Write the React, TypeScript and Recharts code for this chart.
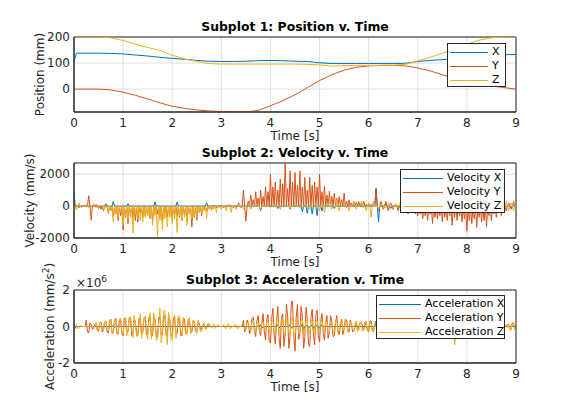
import React from "react";
import { LineChart, Line, XAxis, YAxis, CartesianGrid, Legend, ReferenceArea } from "recharts";

const BLUE = "#0072BD";
const ORANGE = "#D95319";
const GOLD = "#EDB120";
const INK = "#262626";
const GRID = "#dfdfdf";

const timeTicks = [0, 1, 2, 3, 4, 5, 6, 7, 8, 9];
const posTicks = [0, 100, 200];
const velTicks = [-2000, 0, 2000];
const accTicks = [-2, 0, 2];

// position (mm), sampled at posT
const posT = [0, 0.05, 0.25, 0.5, 0.75, 1, 1.25, 1.5, 1.75, 2, 2.25, 2.5, 2.75, 3, 3.25, 3.5, 3.75, 4, 4.25, 4.5, 4.75, 5, 5.25, 5.5, 5.75, 6, 6.25, 6.5, 6.75, 7, 7.25, 7.5, 7.75, 8, 8.25, 8.5, 8.75, 9];
const posX = [106, 138, 138, 138, 137, 135, 131, 127, 122, 118, 114, 110, 107, 106, 106, 107, 109, 110, 109, 107, 106, 101, 98, 98, 98, 98, 98, 98, 99, 106, 110, 113, 118, 122, 126, 129, 132, 133];
const posY = [0, 0, 0, 0, -3, -12, -24, -38, -53, -66, -74, -80, -84, -86, -87, -88, -82, -64, -45, -22, 5, 33, 55, 73, 84, 89, 91, 91, 89, 81, 70, 55, 42, 30, 20, 12, 6, 0];
const posZ = [200, 200, 200, 200, 197, 187, 172, 160, 148, 130, 116, 106, 98, 96, 96, 96, 96, 96, 96, 96, 95, 93, 88, 90, 91, 91, 91, 92, 95, 108, 122, 138, 155, 172, 188, 197, 200, 200];

// velocity (mm/s) and acceleration (x10^6 mm/s^2), one value every 0.025 s (40 per row = 1 s)
const SAMPLE_DT = 0.025;
const velX = [
  850, 0, 0, 0, -100, 0, 0, 0, 0, 0, 0, 0, 0, 0, 0, 0, 0, 0, 0, 0, 0, 0, 0, 0, 0, 0, 0, 0, 0, 0, 0, 0, 300, 0, 0, 0, 0, 0, 0, 0,
  0, 0, 0, 0, 150, 0, 0, 0, 0, 0, 0, 0, 0, 0, 0, 0, 0, 0, 0, 0, 0, 0, 0, 0, 0, 0, 250, 0, 0, 0, 0, 0, 0, 0, 0, 0, 0, 0, 0, 0,
  0, 0, 0, 0, 250, 0, 0, 0, 0, 0, 0, 0, 0, 0, 0, 0, 0, 0, 0, 0, 0, 0, 0, 0, 0, 0, 0, 0, 200, 0, 0, 0, 0, 0, 0, 0, 0, 0, 0, 0,
  0, 0, 0, 0, 0, 0, 0, 0, 0, 0, 0, 0, 0, 0, 0, 0, 0, 0, 0, 0, 0, 0, 0, 0, 0, 0, 0, 0, 0, 0, 0, 0, -300, 0, 0, 0, 0, 0, 0, 0,
  0, 0, 0, 0, 0, 0, -150, 0, 0, 0, 0, 0, 0, 0, 0, 0, -200, 0, 0, 0, 0, 0, 0, 0, 0, 0, -350, 0, 0, 0, -450, 0, 0, 0, -500, 0, 0, 0, -600, 0,
  0, 0, -300, 0, 0, 0, 0, 0, 0, 0, 0, 0, -150, 0, 0, 0, 0, 0, 0, 0, 0, 0, 0, 0, 0, 0, 0, 0, 0, 0, 0, 0, 0, 0, 0, 0, 0, 0, 0, 0,
  0, 0, 0, 0, 0, 0, 1100, 0, -1000, 0, 0, 0, 0, 0, 150, 0, 0, 0, -150, 0, 0, 0, 0, 0, 0, 0, 100, 0, 0, 0, 0, 0, 0, 0, 0, 0, 0, 0, 0, 0,
  0, 0, 0, 0, 100, 0, 0, 0, 0, 0, 0, 0, 0, 0, 0, 0, -100, 0, 0, 0, 0, 0, 0, 0, 0, 0, 0, 0, 0, 0, 0, 0, 0, 0, 0, 0, 0, 0, 0, 0,
  0, 0, 0, 0, 0, 0, 0, 0, 0, 0, 0, 0, 0, 0, 0, 0, 0, 0, 0, 0, 0, 0, 0, 0, 0, 0, 0, 0, 0, 0, 0, 0, 0, 0, 0, 0, -100, 0, 0, 0,
  0,
];
const velY = [
  0, 0, 0, 0, 0, 0, 0, 0, 0, 0, 0, 0, 650, 0, -900, 0, 0, 0, 100, 0, -150, 0, -200, 0, -300, 0, 150, 0, -450, 0, -300, 0, -700, 0, -500, 0, -900, 0, -600, 0,
  -1500, 0, -700, 0, -1100, 0, -500, 0, -800, 0, -900, 0, -1000, 0, -400, 0, -700, 0, -600, 0, -600, 0, -800, 0, -900, 0, -500, 0, -500, 0, -700, 0, -1000, 0, -400, 0, -700, 0, -600, 0,
  -800, 0, -500, 0, -600, 0, -700, 0, -900, 0, -600, 0, -1000, 0, -500, 0, -1300, 0, -700, 0, -900, 0, -400, 0, -600, 0, -200, 0, -300, 0, -100, 0, -200, 0, 0, 0, -100, 0, 0, 0,
  0, 0, -100, 0, 0, 0, 100, 0, 0, 0, -100, 0, 0, 0, 200, 0, -100, 0, 1000, 0, -950, 0, 300, 0, 700, 0, 400, 0, 900, 0, 500, 0, 1000, 0, 600, 0, 1200, 0, 900, 0,
  2000, 0, 1200, 0, 1500, 0, 1000, 0, 1700, 0, 1400, 0, 2700, 0, 1100, 0, 2200, 0, 1500, 0, 2100, 0, 1300, 0, 2200, 0, 1200, 0, 1800, 0, 1000, 0, 1800, 0, 1300, 0, 1500, 0, 1200, 0,
  2000, 0, 900, 0, 1250, 0, 700, 0, 920, 0, 600, 0, 800, 0, 500, 0, 600, 0, 400, 0, 800, 0, 300, 0, 390, 0, 200, 0, 300, 0, 250, 0, 280, 0, 150, 0, 300, 0, 100, 0,
  150, 0, 100, 0, 200, 0, 1100, 0, -300, 0, 300, 0, -200, 0, 300, 0, -300, 0, 200, 0, -200, 0, 100, 0, -300, 0, -200, 0, -400, 0, -300, 0, -500, 0, -200, 0, -400, 0, -500, 0,
  -600, 0, -500, 0, -800, 0, -600, 0, -900, 0, -500, 0, -1100, 0, -700, 0, -800, 0, -600, 0, -1000, 0, -700, 0, -900, 0, -600, 0, -1200, 0, -700, 0, -900, 0, -600, 0, -1000, 0, -800, 0,
  -1550, 0, -900, 0, -1100, 0, -800, 0, -1330, 0, -700, 0, -1000, 0, -900, 0, -1300, 0, -600, 0, -900, 0, -500, 0, -700, 0, -300, 0, -600, 0, -200, 0, -300, 0, 200, 0, -200, 0, 300, 0,
  0,
];
const velZ = [
  0, 0, -250, 0, 200, 0, -100, 0, 0, 0, 100, 0, -100, 0, 0, 0, 150, 0, -100, 0, 0, 0, 50, 0, -200, 0, -100, 0, -400, 0, -300, 0, -1000, 0, -500, 0, -700, 0, -400, 0,
  -1200, 0, -600, 0, -900, 0, -700, 0, -1700, 0, -500, 0, -800, 0, -900, 0, -1000, 0, -700, 0, -600, 0, -800, 0, -1200, 0, -600, 0, -1900, 0, -900, 0, -1500, 0, -800, 0, -1300, 0, -700, 0,
  -1100, 0, -800, 0, -1650, 0, -600, 0, -900, 0, -700, 0, -1200, 0, -500, 0, -800, 0, -600, 0, -700, 0, -400, 0, -500, 0, -300, 0, -800, 0, -200, 0, -300, 0, -200, 0, -400, 0, -100, 0,
  -200, 0, 0, 0, -300, 0, 0, 0, -400, 0, 0, 0, -200, 0, 100, 0, 0, 0, -200, 0, 0, 0, 100, 0, -200, 0, 0, 0, 150, 0, 0, 0, -200, 0, 0, 0, 100, 0, 0, 0,
  -100, 0, 0, 0, 150, 0, 0, 0, -200, 0, 0, 0, 100, 0, 0, 0, -150, 0, 0, 0, 200, 0, 0, 0, -100, 0, 0, 0, 150, 0, 0, 0, -200, 0, 0, 0, 100, 0, 0, 0,
  -300, 0, 200, 0, -400, 0, 100, 0, 300, 0, -200, 0, 0, 0, 400, 0, -300, 0, 0, 0, 200, 0, -100, 0, -300, 0, 0, 0, 250, 0, -200, 0, 0, 0, 300, 0, -100, 0, -300, 0,
  200, 0, -700, 0, 300, 0, 0, 0, -200, 0, 100, 0, 0, 0, -100, 0, 200, 0, 0, 0, -100, 0, 150, 0, 0, 0, 300, 0, 0, 0, 400, 0, 0, 0, 500, 0, 100, 0, 300, 0,
  0, 0, 200, 0, 0, 0, -100, 0, 100, 0, 0, 0, -100, 0, 0, 0, 100, 0, 0, 0, -100, 0, 0, 0, 200, 0, 0, 0, -100, 0, 0, 0, 100, 0, 0, 0, -100, 0, 0, 0,
  0, 0, 100, 0, 0, 0, -100, 0, 0, 0, 100, 0, 0, 0, -100, 0, 0, 0, 100, 0, 0, 0, -100, 0, 0, 0, 100, 0, 0, 0, -200, 0, 300, 0, -300, 0, 200, 0, -300, 0,
  0,
];
const accX = [
  0.1, -0.1, 0, 0, 0, 0, 0, 0, 0, 0, 0, 0, 0, 0, 0, 0, 0, 0, 0, 0, 0, 0, 0, 0, 0, 0, 0, 0, 0, 0, 0, 0, 0.05, -0.05, 0, 0, 0, 0, 0, 0,
  0, 0, 0, 0, 0, 0, 0, 0, 0, 0, 0, 0, 0, 0, 0, 0, 0, 0, 0, 0, 0, 0, 0, 0, 0, 0, 0, 0, 0, 0, 0, 0, 0, 0, 0, 0, 0, 0, 0, 0,
  0, 0, 0, 0, 0, 0, 0, 0, 0, 0, 0, 0, 0, 0, 0, 0, 0, 0, 0, 0, 0, 0, 0, 0, 0, 0, 0, 0, 0, 0, 0, 0, 0, 0, 0, 0, 0, 0, 0, 0,
  0, 0, 0, 0, 0, 0, 0, 0, 0, 0, 0, 0, 0, 0, 0, 0, 0, 0, 0, 0, 0, 0, 0, 0, 0, 0, 0, 0, 0, 0, 0, 0, 0.1, -0.1, 0, 0, 0, 0, 0, 0,
  0, 0, 0, 0, 0, 0, 0.1, -0.1, 0, 0, 0, 0, 0, 0, 0, 0, 0.1, -0.1, 0, 0, 0, 0, 0, 0, 0, 0, 0.15, -0.15, 0, 0, 0.1, -0.1, 0, 0, 0.1, -0.15, 0, 0, 0.1, -0.1,
  0, 0, 0.1, 0, 0, 0, 0, 0, 0, 0, 0, 0, 0, 0, 0, 0, 0, 0, 0, 0, 0, 0, 0, 0, 0, 0, 0, 0, 0, 0, 0, 0, 0, 0, 0, 0, 0, 0, 0, 0,
  0, 0, 0, 0, 0, 0, 0.3, -0.3, 0, 0, 0, 0, 0, 0, 0, 0, 0, 0, 0, 0, 0, 0, 0, 0, 0, 0, 0, 0, 0, 0, 0, 0, 0, 0, 0, 0, 0, 0, 0, 0,
  0, 0, 0, 0, 0, 0, 0, 0, 0, 0, 0, 0, 0, 0, 0, 0, 0, 0, 0, 0, 0, 0, 0, 0, 0, 0, 0, 0, 0, 0, 0, 0, 0, 0, 0, 0, 0, 0, 0, 0,
  0, 0, 0, 0, 0, 0, 0, 0, 0, 0, 0, 0, 0, 0, 0, 0, 0, 0, 0, 0, 0, 0, 0, 0, 0, 0, 0, 0, 0, 0, 0, 0, 0, 0, 0, 0, 0, 0, 0, 0,
  0,
];
const accY = [
  0, 0, 0, 0, 0, 0, 0, 0, 0, 0, 0.35, -0.3, -0.35, 0.2, 0.1, -0.15, -0.1, 0.1, 0.2, -0.2, -0.25, 0.2, 0.25, -0.3, -0.2, 0.25, 0.3, -0.3, -0.35, 0.3, 0.4, -0.35, -0.3, 0.3, 0.45, -0.4, -0.4, 0.35, 0.35, -0.4,
  -0.5, 0.45, 0.4, -0.35, -0.3, 0.4, 0.5, -0.5, -0.45, 0.35, 0.3, -0.4, -0.5, 0.45, 0.45, -0.4, -0.35, 0.4, 0.5, -0.45, -0.4, 0.5, 0.55, -0.5, -0.5, 0.45, 0.4, -0.55, -0.6, 0.5, 0.5, -0.45, -0.45, 0.55, 0.6, -0.5, -0.5, 0.45, 0.4, -0.5,
  -0.55, 0.5, 0.5, -0.45, -0.4, 0.45, 0.45, -0.5, -0.5, 0.4, 0.4, -0.35, -0.35, 0.4, 0.4, -0.3, -0.3, 0.3, 0.3, -0.25, -0.25, 0.2, 0.2, -0.15, -0.15, 0.1, 0.1, -0.1, -0.1, 0.1, 0.1, 0, 0, 0, 0, 0, 0, 0, 0, 0,
  0, 0, 0, 0, 0, 0, 0, 0, 0, 0, 0, 0, 0, 0, 0, 0, 0, 0, 0.35, -0.3, -0.1, 0.35, 0.15, -0.4, -0.2, 0.45, 0.5, -0.2, -0.55, 0.3, 0.6, -0.25, -0.5, 0.2, 0.7, -0.3, -0.75, 0.4, 0.65, -0.8,
  -0.9, 0.4, 1.0, -0.5, -0.95, 0.3, 1.1, -0.6, -1.2, 0.5, 0.7, -1.1, -0.4, 1.2, 0.6, -1.2, -0.5, 1.35, 1.4, -0.6, -1.35, 0.5, 1.2, -0.7, -0.4, 1.1, 0.5, -1.2, -0.6, 1.05, 0.4, -1.0, -1.1, 0.5, 0.95, -0.4, -1.0, 0.6, 0.9, -0.5,
  -0.85, 0.3, 0.7, -0.4, -0.75, 0.2, 0.6, -0.65, -0.3, 0.6, 0.2, -0.55, -0.5, 0.15, 0.6, -0.3, -0.45, 0.1, 0.4, -0.45, -0.1, 0.4, 0.35, -0.1, -0.3, 0.35, 0.1, -0.3, -0.25, 0.05, 0.2, -0.25, 0, 0.2, 0.25, 0, -0.2, 0.2, 0.05, -0.2,
  -0.3, 0.3, 0.3, -0.25, -0.2, 0.1, 0, 0, 0, 0, 0, 0, 0, 0, 0, 0, 0, 0, 0, 0, 0, 0, 0, 0, 0, 0, 0, 0, 0.1, -0.1, -0.1, 0.1, 0.15, -0.15, -0.15, 0.15, 0.2, -0.2, -0.2, 0.15,
  0.15, -0.15, -0.2, 0.2, 0.2, -0.2, -0.25, 0.25, 0.2, -0.25, -0.3, 0.3, 0.25, -0.25, -0.2, 0.3, 0.3, -0.3, -0.25, 0.2, 0.2, -0.25, -0.3, 0.3, 0.25, -0.3, -0.35, 0.3, 0.3, -0.4, -0.5, 0.35, 0.3, -0.35, -0.4, 0.3, 0.25, -0.3, -0.3, 0.25,
  0.2, -0.3, -0.35, 0.3, 0.25, -0.25, -0.3, 0.25, 0.2, -0.2, -0.25, 0.2, 0.2, -0.2, -0.2, 0.15, 0.15, -0.15, -0.2, 0.1, 0.1, -0.1, -0.1, 0, 0, 0, 0, 0, 0, 0, 0, 0, 0, 0.1, 0.1, -0.15, -0.15, 0.2, 0.2, -0.15,
  -0.1,
];
const accZ = [
  0, 0, 0.1, -0.1, -0.1, 0.05, 0, 0, 0, 0, 0, 0, 0, 0, 0, 0, 0, 0, 0.2, -0.2, -0.15, 0.2, 0.25, -0.2, -0.2, 0.25, 0.3, -0.3, -0.25, 0.3, 0.35, -0.35, -0.4, 0.35, 0.3, -0.3, -0.35, 0.4, 0.45, -0.4,
  -0.4, 0.2, 0.5, -0.5, -0.2, 0.5, 0.45, -0.1, -0.6, 0.6, 0.2, -0.55, -0.5, 0.1, 0.7, -0.65, -0.2, 0.5, 0.55, -0.1, -0.7, 0.3, 0.75, -0.7, -0.2, 0.75, 0.3, -0.75, -0.7, 0.2, 1.0, -0.9, -0.3, 0.85, 0.9, -0.2, -1.0, 0.8, 0.3, -0.75,
  -0.7, 0.2, 0.65, -0.65, -0.1, 0.6, 0.55, -0.2, -0.5, 0.5, 0.1, -0.45, -0.4, 0.1, 0.5, -0.4, -0.1, 0.35, 0.3, -0.1, -0.4, 0.35, 0.05, -0.3, -0.25, 0.05, 0.2, -0.2, 0, 0.15, 0.15, 0, -0.1, 0.1, 0.15, -0.1, 0, 0.1, 0.05, 0,
  0, 0, 0.1, -0.1, -0.1, 0.15, 0.15, -0.1, -0.1, 0, 0, 0.1, 0.1, -0.1, -0.1, 0, 0, 0.1, 0.15, -0.15, -0.2, 0.2, 0.25, -0.2, -0.2, 0.25, 0.3, -0.25, -0.25, 0.2, 0.2, -0.3, -0.3, 0.25, 0.25, -0.2, -0.2, 0.25, 0.3, -0.3,
  -0.35, 0.3, 0.3, -0.35, -0.4, 0.35, 0.35, -0.3, -0.3, 0.4, 0.4, -0.4, -0.45, 0.4, 0.35, -0.35, -0.4, 0.45, 0.5, -0.45, -0.4, 0.4, 0.45, -0.4, -0.35, 0.35, 0.4, -0.35, -0.3, 0.3, 0.35, -0.3, -0.4, 0.35, 0.3, -0.3, -0.35, 0.3, 0.3, -0.3,
  -0.3, 0.3, 0.35, -0.3, -0.25, 0.25, 0.3, -0.3, -0.3, 0.3, 0.25, -0.25, -0.3, 0.3, 0.35, -0.3, -0.25, 0.25, 0.3, -0.25, -0.2, 0.2, 0.25, -0.3, -0.3, 0.25, 0.2, -0.2, -0.25, 0.25, 0.3, -0.25, -0.2, 0.2, 0.25, -0.25, -0.2, 0.25, 0.3, -0.25,
  -0.25, 0.25, 0.2, -0.25, -0.3, 0.2, 0.1, 0, 0, 0, 0, 0, 0, 0, 0, 0, 0, 0, 0, 0, 0, 0, 0, 0, 0, 0, 0.1, -0.1, -0.1, 0.1, 0.15, -0.15, -0.15, 0.1, 0.1, -0.1, -0.1, 0.15, 0.2, -0.15,
  -0.15, 0.15, 0.2, -0.2, -0.15, 0.1, 0.1, -0.15, -0.2, 0.15, 0.15, -0.1, -0.1, 0.15, 0.2, -0.2, -0.25, 0.2, 0.2, -0.25, -0.3, 0.25, 0.25, -0.2, -0.2, 0.25, 0.3, -0.3, -0.4, 0.2, -1.0, -0.5, 0.3, -0.3, -0.6, 0.3, 0.25, -0.2, -0.3, 0.2,
  0.2, -0.2, -0.25, 0.2, 0.15, -0.15, -0.2, 0.15, 0.2, -0.15, -0.15, 0.1, 0.1, -0.15, -0.2, 0.15, 0.15, -0.1, -0.1, 0.1, 0.1, -0.1, -0.1, 0, 0, 0, 0, 0, 0, 0, 0, 0, 0.1, -0.1, 0.15, -0.15, -0.2, 0.2, 0.2, -0.2,
  -0.15,
];

const posData = posT.map((t, i) => ({ t, x: posX[i], y: posY[i], z: posZ[i] }));
const velData = velX.map((v, i) => ({ t: +(i * SAMPLE_DT).toFixed(3), x: v, y: velY[i], z: velZ[i] }));
const accData = accX.map((v, i) => ({ t: +(i * SAMPLE_DT).toFixed(3), x: v, y: accY[i], z: accZ[i] }));

type Series = { key: string; name: string; color: string };

const posSeries: Series[] = [
  { key: "x", name: "X", color: BLUE },
  { key: "y", name: "Y", color: ORANGE },
  { key: "z", name: "Z", color: GOLD },
];
const velSeries: Series[] = [
  { key: "x", name: "Velocity X", color: BLUE },
  { key: "y", name: "Velocity Y", color: ORANGE },
  { key: "z", name: "Velocity Z", color: GOLD },
];
const accSeries: Series[] = [
  { key: "x", name: "Acceleration X", color: BLUE },
  { key: "y", name: "Acceleration Y", color: ORANGE },
  { key: "z", name: "Acceleration Z", color: GOLD },
];

function BoxLegend({ series, width, lineLen }: { series: Series[]; width: number; lineLen: number }) {
  return (
    <div
      style={{
        width,
        height: 44,
        boxSizing: "border-box",
        border: `1px solid ${INK}`,
        background: "#fff",
        position: "relative",
      }}
    >
      {series.map((s, i) => (
        <div
          key={s.key}
          style={{ position: "absolute", left: 2, top: 1 + i * 14, height: 14, display: "flex", alignItems: "center" }}
        >
          <div style={{ width: lineLen, height: 0, borderTop: `1px solid ${s.color}` }} />
          <span style={{ marginLeft: 4, fontSize: 11, lineHeight: "14px", color: "#000", whiteSpace: "nowrap" }}>
            {s.name}
          </span>
        </div>
      ))}
    </div>
  );
}

interface PanelProps {
  data: { t: number; x: number; y: number; z: number }[];
  series: Series[];
  domain: [number, number];
  ticks: number[];
  title: string;
  yLabel: React.ReactNode;
  yLabelX: number;
  top: number;
  bottom: number;
  legend: { left: number; top: number; width: number; lineLen: number };
  exponent?: boolean;
}

function Panel({ data, series, domain, ticks, title, yLabel, yLabelX, top, bottom, legend, exponent }: PanelProps) {
  const mid = (top + bottom) / 2;
  return (
    <div style={{ position: "absolute", left: 0, top: 0 }}>
      <LineChart width={570} height={420} data={data} margin={{ top, right: 54, left: 34, bottom: 420 - bottom - 30 }}>
        <CartesianGrid stroke={GRID} />
        <XAxis
          dataKey="t"
          type="number"
          domain={[0, 9]}
          ticks={timeTicks}
          height={30}
          tickLine={false}
          tickSize={4}
          tickMargin={2}
          axisLine={{ stroke: INK }}
          tick={{ fontSize: 12, fill: INK }}
        />
        <YAxis
          type="number"
          domain={domain}
          ticks={ticks}
          allowDataOverflow
          width={40}
          tickLine={false}
          tickSize={2}
          tickMargin={2}
          axisLine={{ stroke: INK }}
          tick={{ fontSize: 12, fill: INK }}
        />
        {series.map((s) => (
          <Line
            key={s.key}
            type="linear"
            dataKey={s.key}
            name={s.name}
            stroke={s.color}
            strokeWidth={1}
            dot={false}
            isAnimationActive={false}
          />
        ))}
        <ReferenceArea x1={0} x2={9} y1={domain[0]} y2={domain[1]} fill="none" stroke={INK} strokeWidth={1} />
        <Legend
          layout="vertical"
          align="center"
          verticalAlign="middle"
          wrapperStyle={{ left: legend.left, top: legend.top, width: legend.width, height: 44 }}
          content={() => <BoxLegend series={series} width={legend.width} lineLen={legend.lineLen} />}
        />
        <text x={295} y={top - 6} textAnchor="middle" fontSize={12.4} fontWeight="bold" fill="#000">
          {title}
        </text>
        <text x={295} y={bottom + 28} textAnchor="middle" fontSize={12} fill={INK}>
          Time [s]
        </text>
        <text
          x={yLabelX}
          y={mid}
          textAnchor="middle"
          dominantBaseline="middle"
          fontSize={12}
          fill={INK}
          transform={`rotate(-90, ${yLabelX}, ${mid})`}
        >
          {yLabel}
        </text>
        {exponent && (
          <text x={76} y={top - 3} fontSize={12} fill={INK}>
            ×10
            <tspan dy={-5} fontSize={9}>
              6
            </tspan>
          </text>
        )}
      </LineChart>
    </div>
  );
}

export default function App() {
  return (
    <div
      style={{
        position: "absolute",
        left: 0,
        top: 0,
        width: 570,
        height: 420,
        background: "#fff",
        fontFamily: "'DejaVu Sans', sans-serif",
      }}
    >
      <Panel
        data={posData}
        series={posSeries}
        domain={[-88, 200]}
        ticks={posTicks}
        title="Subplot 1: Position v. Time"
        yLabel="Position (mm)"
        yLabelX={40}
        top={37}
        bottom={112}
        legend={{ left: 447, top: 43, width: 59, lineLen: 38 }}
      />
      <Panel
        data={velData}
        series={velSeries}
        domain={[-2000, 2700]}
        ticks={velTicks}
        title="Subplot 2: Velocity v. Time"
        yLabel="Velocity (mm/s)"
        yLabelX={30}
        top={163}
        bottom={238}
        legend={{ left: 400, top: 169, width: 105, lineLen: 40 }}
      />
      <Panel
        data={accData}
        series={accSeries}
        domain={[-2, 2]}
        ticks={accTicks}
        title="Subplot 3: Acceleration v. Time"
        yLabel={
          <>
            Acceleration (mm/s
            <tspan dy={-4} fontSize={9}>
              2
            </tspan>
            <tspan dy={4}>)</tspan>
          </>
        }
        yLabelX={50}
        top={290}
        bottom={363}
        legend={{ left: 376, top: 295, width: 129, lineLen: 42 }}
        exponent
      />
    </div>
  );
}
